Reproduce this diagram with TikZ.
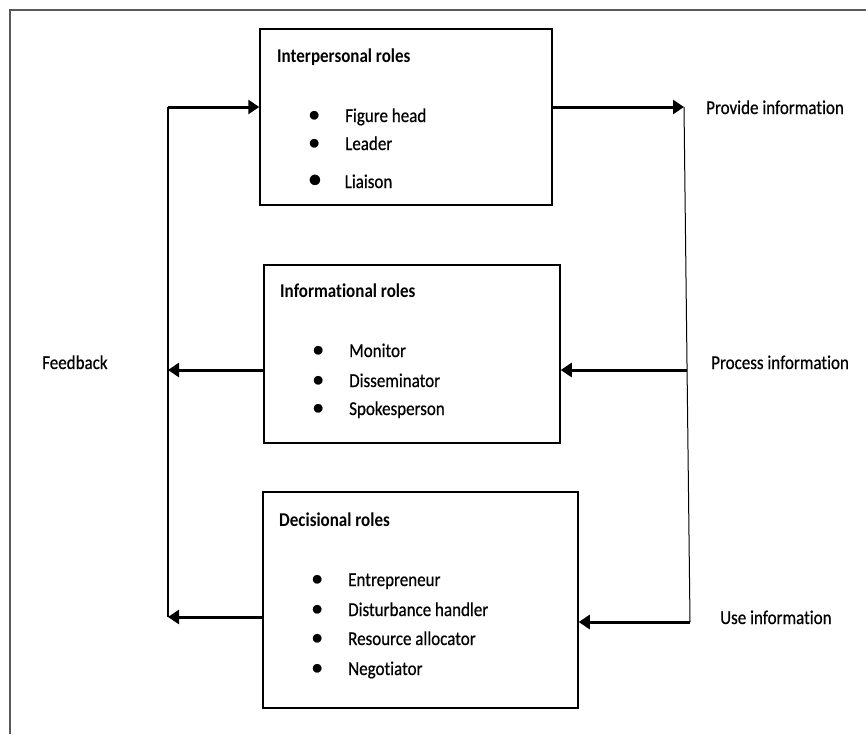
\documentclass[tikz,border=0pt]{standalone}
\usepackage{graphicx}
\usepackage{fontspec}
\setmainfont{Carlito}[Ligatures=NoCommon]
\newfontfamily\itmfont{Carlito}[Ligatures=NoCommon, FakeBold=0.6]
\usetikzlibrary{arrows.meta}
\tikzset{
  rolebox/.style={draw=black, line width=1.5pt, minimum width=#1, inner sep=0pt},
  ttl/.style={anchor=base west, inner sep=0pt, font=\fontsize{17pt}{20pt}\selectfont\bfseries},
  itm/.style={anchor=base west, inner sep=0pt, font=\fontsize{17pt}{20pt}\selectfont\itmfont},
  lbl/.style={anchor=base west, inner sep=0pt, font=\fontsize{17pt}{20pt}\selectfont\itmfont},
  flow/.style={line width=3pt, -{Triangle[length=11pt,width=14pt]}},
  thinline/.style={line width=1.5pt},
  frameline/.style={draw=black!65, line width=1.5pt}
}
\newcommand{\vs}[1]{\scalebox{1}[1.15]{#1}}
\newcommand{\bul}[1]{\makebox[37pt][l]{{\fontsize{24pt}{20pt}\selectfont\textbullet}}\vs{#1}}
\newcommand{\bigbul}[1]{\makebox[37pt][l]{{\fontsize{29pt}{20pt}\selectfont\textbullet}}\vs{#1}}
\begin{document}
\begin{tikzpicture}[x=1pt,y=-1pt]
\useasboundingbox (0,0) rectangle (866,734);
\draw[frameline] (10,734) -- (10,10) -- (866,10);

% boxes
\node[rolebox=292pt, minimum height=176pt] (box1) at (406,117) {};
\node[rolebox=296pt, minimum height=178pt] (box2) at (412,354) {};
\node[rolebox=315pt, minimum height=216pt] (box3) at (420.5,600) {};

% box 1 text
\node[ttl] (t1) at (277,62) {\vs{Interpersonal roles}};
\node[itm] (i11) at (308,122) {\bul{Figure head}};
\node[itm] (i12) at (308,150) {\bul{Leader}};
\node[itm] (i13) at (307.5,188) {\bigbul{Liaison}};

% box 2 text
\node[ttl] (t2) at (280,297) {\vs{Informational roles}};
\node[itm] (i21) at (312,357) {\bul{Monitor}};
\node[itm] (i22) at (312,387) {\bul{Disseminator}};
\node[itm] (i23) at (312,415) {\bul{Spokesperson}};

% box 3 text
\node[ttl] (t3) at (279,526) {\vs{Decisional roles}};
\node[itm] (i31) at (311,586) {\bul{Entrepreneur}};
\node[itm] (i32) at (311,616) {\bul{Disturbance handler}};
\node[itm] (i33) at (311,645) {\bul{Resource allocator}};
\node[itm] (i34) at (311,675) {\bul{Negotiator}};

% outside labels
\node[lbl] (lprov) at (706,114) {\vs{Provide information}};
\node[lbl] (lproc) at (711,369) {\vs{Process information}};
\node[lbl] (luse) at (720,624) {\vs{Use information}};
\node[lbl] (lfb) at (42,369) {\vs{Feedback}};

% connector points
\coordinate (fbtop) at (168,107);
\coordinate (fbmid) at (168,370);
\coordinate (fbbot) at (168,617);
\coordinate (pi) at (684,107);
\coordinate (pr) at (687,370);
\coordinate (ui) at (690,622);

% feedback loop
\draw[thinline] (fbtop) -- (fbbot);
\draw[flow] (fbtop) -- (box1.west |- fbtop);
\draw[flow] (box2.west |- fbmid) -- (fbmid);
\draw[flow] (box3.west |- fbbot) -- (fbbot);

% information flow
\draw[flow] (box1.east |- pi) -- (pi);
\draw[line width=1pt] (pi) -- (ui);
\draw[flow] (pr) -- (box2.east |- pr);
\draw[flow] (ui) -- (box3.east |- ui);
\end{tikzpicture}
\end{document}
